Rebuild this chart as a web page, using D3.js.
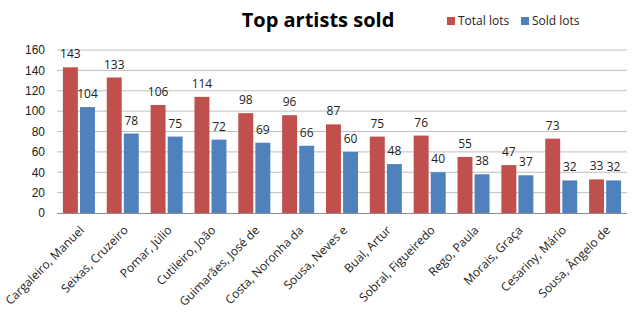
<!DOCTYPE html>
<html>
<head>
<meta charset="utf-8">
<script src="https://cdn.jsdelivr.net/npm/d3@7"></script>
<style>
  body { margin: 0; background: #fff; }
  svg { font-family: "Open Sans", "DejaVu Sans", sans-serif; }
  .axis text { font-size: 12px; fill: #222; }
  .axis .domain { display: none; }
  .axis .tick line { display: none; }
</style>
</head>
<body>
<svg id="chart"></svg>
<script>
// chart data
const artists = [
  "Cargaleiro, Manuel", "Seixas, Cruzeiro", "Pomar, Júlio", "Cutileiro, João",
  "Guimarães, José de", "Costa, Noronha da", "Sousa, Neves e", "Bual, Artur",
  "Sobral, Figueiredo", "Rego, Paula", "Morais, Graça", "Cesariny, Mário",
  "Sousa, Ângelo de"
];
const totalLots = [143, 133, 106, 114, 98, 96, 87, 75, 76, 55, 47, 73, 33];
const soldLots = [104, 78, 75, 72, 69, 66, 60, 48, 40, 38, 37, 32, 32];
const seriesNames = ["Total lots", "Sold lots"];
const yTicks = [0, 20, 40, 60, 80, 100, 120, 140, 160];

const config = {
  width: 638,
  height: 313,
  margin: { top: 50, right: 11, bottom: 100, left: 57 },
  colors: ["#C0504D", "#4F81BD"],
};

const svg = d3.select("#chart")
  .attr("width", config.width)
  .attr("height", config.height);

const innerW = config.width - config.margin.left - config.margin.right;
const innerH = config.height - config.margin.top - config.margin.bottom;

const chart = svg.append("g")
  .attr("transform", `translate(${config.margin.left},${config.margin.top})`);

// scales
const xScale = d3.scaleBand().domain(artists).range([0, innerW]).paddingInner(0.27).paddingOuter(0.135);
const xSub = d3.scaleBand().domain(seriesNames).range([0, xScale.bandwidth()]).paddingInner(0.125);
const yScale = d3.scaleLinear().domain([0, 160]).range([innerH, 0]);

// gridlines
chart.append("g")
  .selectAll("line")
  .data(yTicks.slice(1))
  .join("line")
  .attr("x1", 0)
  .attr("x2", innerW)
  .attr("y1", d => yScale(d))
  .attr("y2", d => yScale(d))
  .attr("stroke", "#bfbfbf")
  .attr("stroke-width", 1);

// y axis
chart.append("g")
  .attr("class", "axis y-axis")
  .attr("transform", "translate(-6,0)")
  .call(d3.axisLeft(yScale).tickValues(yTicks).tickSize(0).tickPadding(6));

// bars
const rows = artists.map((a, i) => ({ artist: a, values: [totalLots[i], soldLots[i]] }));

const groups = chart.selectAll(".group")
  .data(rows)
  .join("g")
  .attr("class", "group")
  .attr("transform", d => `translate(${xScale(d.artist)},0)`);

groups.selectAll("rect")
  .data(d => d.values.map((v, j) => ({ series: seriesNames[j], value: v, j })))
  .join("rect")
  .attr("x", d => xSub(d.series))
  .attr("y", d => yScale(d.value))
  .attr("width", xSub.bandwidth())
  .attr("height", d => innerH - yScale(d.value))
  .attr("fill", d => config.colors[d.j]);

groups.selectAll("text.value")
  .data(d => d.values.map((v, j) => ({ series: seriesNames[j], value: v })))
  .join("text")
  .attr("class", "value")
  .attr("x", d => xSub(d.series) + xSub.bandwidth() / 2)
  .attr("y", d => yScale(d.value) - 9)
  .attr("text-anchor", "middle")
  .style("font-size", "12px")
  .style("fill", "#222")
  .text(d => d.value);

// x axis line
chart.append("line")
  .attr("x1", 0)
  .attr("x2", innerW)
  .attr("y1", innerH + 0.5)
  .attr("y2", innerH + 0.5)
  .attr("stroke", "#8c8c8c");

// x labels
chart.append("g")
  .selectAll("text")
  .data(artists)
  .join("text")
  .attr("transform", d => `translate(${xScale(d) + xScale.bandwidth() / 2 + 6},${innerH + 18}) rotate(-45)`)
  .attr("text-anchor", "end")
  .style("font-size", "12px")
  .style("fill", "#222")
  .text(d => d);

// title
svg.append("text")
  .attr("x", 318)
  .attr("y", 27)
  .attr("text-anchor", "middle")
  .style("font-size", "20px")
  .style("font-weight", "bold")
  .style("fill", "#000")
  .text("Top artists sold");

// legend
const legend = svg.append("g").attr("transform", "translate(447,15)");
const legendX = [0, 74];
const items = legend.selectAll(".legend-item")
  .data(seriesNames)
  .join("g")
  .attr("class", "legend-item")
  .attr("transform", (d, i) => `translate(${legendX[i]},0)`);
items.append("rect")
  .attr("y", 2)
  .attr("width", 8)
  .attr("height", 8)
  .attr("fill", (d, i) => config.colors[i]);
items.append("text")
  .attr("x", 11)
  .attr("y", 10)
  .style("font-size", "12px")
  .style("fill", "#222")
  .text(d => d);
</script>
</body>
</html>
